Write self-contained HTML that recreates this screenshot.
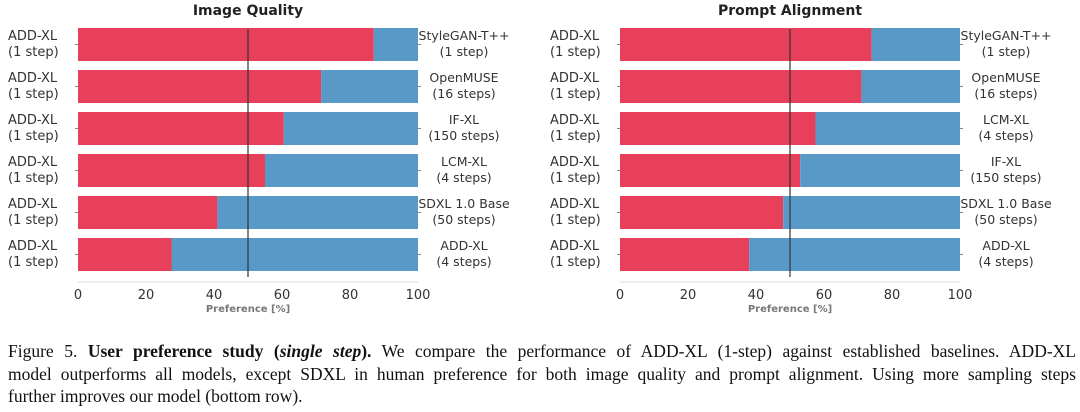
<!DOCTYPE html>
<html><head><meta charset="utf-8">
<style>
body{margin:0;background:#fff;width:1080px;height:412px;overflow:hidden}
svg text{font-family:"DejaVu Sans","Liberation Sans",sans-serif}
.cap{position:absolute;left:8px;top:340px;width:1068px;font-family:"Liberation Serif",serif;font-size:17.5px;line-height:22.5px;color:#111}
.cap div{white-space:nowrap}
.cap .j{text-align:justify;text-align-last:justify;white-space:normal}
</style></head><body>
<svg id="chart" width="1080" height="335" style="position:absolute;left:0;top:0"></svg>
<div class="cap">
<div class="j">Figure 5. <b>User preference study (<i>single step</i>).</b> We compare the performance of ADD-XL (1-step) against established baselines. ADD-XL</div>
<div class="j">model outperforms all models, except SDXL in human preference for both image quality and prompt alignment. Using more sampling steps</div>
<div>further improves our model (bottom row).</div>
</div>
<script>
const iqModels=["StyleGAN-T++","OpenMUSE","IF-XL","LCM-XL","SDXL 1.0 Base","ADD-XL"];
const iqSteps=["(1 step)","(16 steps)","(150 steps)","(4 steps)","(50 steps)","(4 steps)"];
const iqValues=[87,71.5,60.5,55,41,27.5];
const paModels=["StyleGAN-T++","OpenMUSE","LCM-XL","IF-XL","SDXL 1.0 Base","ADD-XL"];
const paSteps=["(1 step)","(16 steps)","(4 steps)","(150 steps)","(50 steps)","(4 steps)"];
const paValues=[74,71,57.5,53,48,38];
const ticks=[0,20,40,60,80,100];
const NS="http://www.w3.org/2000/svg";
const svg=document.getElementById('chart');
function mk(tag,attrs,parent){const e=document.createElementNS(NS,tag);for(const k in attrs)e.setAttribute(k,attrs[k]);(parent||svg).appendChild(e);return e;}
function txt(x,y,s,attrs,parent){const t=mk('text',Object.assign({x:x,y:y},attrs),parent);t.textContent=s;return t;}
function drawChart(x0,title,models,steps,vals,key){
  const g=mk('g',{});
  
  
  const W=340,xs=v=>x0+v/100*W;
  const top=28,pitch=42,bh=33;
  const t=txt(x0+W/2,15,title,{'text-anchor':'middle','font-size':'14','font-weight':'bold',fill:'#222'},g);
  
  
  vals.forEach((v,i)=>{
    const y=top+i*pitch;
    const r=mk('rect',{x:xs(0),y:y,width:xs(v)-xs(0),height:bh,fill:'#e8405a'},g);
    
    
    const b=mk('rect',{x:xs(v),y:y,width:xs(100)-xs(v),height:bh,fill:'#5899c7'},g);
    
    
    mk('line',{x1:xs(0)-3,x2:xs(0),y1:y+bh/2,y2:y+bh/2,stroke:'#888','stroke-width':1},g);
    mk('line',{x1:xs(100),x2:xs(100)+3,y1:y+bh/2,y2:y+bh/2,stroke:'#888','stroke-width':1},g);
    const l1=txt(x0-70,y+12,'ADD-XL',{'font-size':'13',fill:'#333'},g);
    
    
    txt(x0-70,y+28,'(1 step)',{'font-size':'13',fill:'#333'},g);
    const r1=txt(x0+W+46,y+12,models[i],{'font-size':'12.5','text-anchor':'middle',fill:'#333'},g);
    
    
    txt(x0+W+46,y+28,steps[i],{'font-size':'12.5','text-anchor':'middle',fill:'#333'},g);
  });
  const ml=mk('line',{x1:xs(50),x2:xs(50),y1:29,y2:277,stroke:'#333','stroke-width':1.2},g);
  
  
  mk('line',{x1:xs(0),x2:xs(100),y1:282,y2:282,stroke:'#ddd','stroke-width':1},g);
  ticks.forEach(tv=>{
    const tl=txt(xs(tv),299,String(tv),{'font-size':'13',fill:'#333','text-anchor':'middle'},g);
    
    
  });
  const xl=txt(x0+W/2,312,'Preference [%]',{'font-size':'10','font-weight':'bold',fill:'#777','text-anchor':'middle'},g);
  
  
}
drawChart(78,'Image Quality',iqModels,iqSteps,iqValues,'image-quality');
drawChart(620,'Prompt Alignment',paModels,paSteps,paValues,'prompt-alignment');
</script>
</body></html>
